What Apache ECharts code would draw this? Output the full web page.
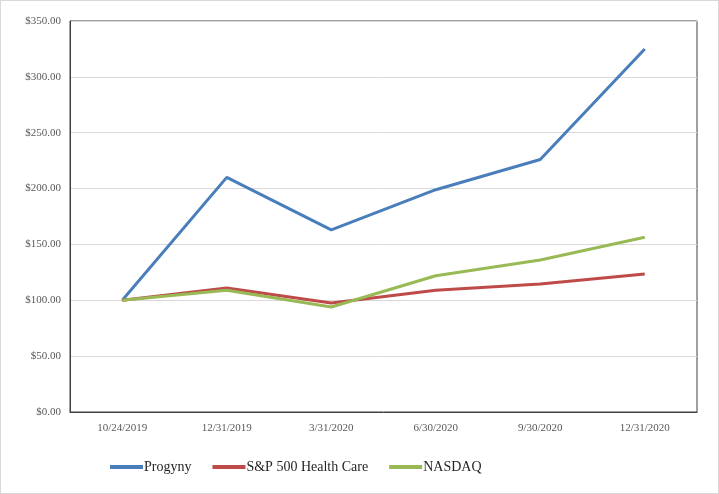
<!DOCTYPE html>
<html><head><meta charset="utf-8">
<script src="https://cdn.jsdelivr.net/npm/echarts@6/dist/echarts.min.js"></script>
<style>
html,body{margin:0;padding:0;background:#fff;}
#c{width:717px;height:492px;border:1px solid #d9d9d9;}
</style></head>
<body><div id="c"></div>
<script>
const categories = ['10/24/2019','12/31/2019','3/31/2020','6/30/2020','9/30/2020','12/31/2020'];
const progyny = [100, 210, 163, 199, 226, 325];
const spHealth = [100, 111, 97.5, 109, 114.5, 123.5];
const nasdaq = [100, 109, 94, 122, 136, 156.5];
const seriesNames = ['Progyny','S&P 500 Health Care','NASDAQ'];

const chart = echarts.init(document.getElementById('c'));
const font = 'Liberation Serif';
function mk(name, data, color){
  return {name, type:'line', data, symbol:'none', smooth:false,
    lineStyle:{width:3, color}, itemStyle:{color}};
}
chart.setOption({
  animation:false,
  textStyle:{fontFamily:font},
  grid:{left:69, right:21, top:20, bottom:81, show:true, borderColor:'#404040', borderWidth:1, containLabel:false},
  legend:{bottom:14, left:104, icon:'rect', itemWidth:33, itemHeight:4, itemGap:21,
    textStyle:{fontFamily:font, fontSize:14, color:'#262626', padding:[0,0,0,-4]},
    data:seriesNames},
  xAxis:{type:'category', data:categories, boundaryGap:true,
    axisLine:{show:true, lineStyle:{color:'#404040'}}, axisTick:{show:false},
    axisLabel:{fontFamily:font, fontSize:11, color:'#595959', margin:11}},
  yAxis:{type:'value', min:0, max:350, interval:50,
    axisLine:{show:true, lineStyle:{color:'#404040'}}, axisTick:{show:false},
    splitLine:{lineStyle:{color:'#d9d9d9', width:1}},
    axisLabel:{fontFamily:font, fontSize:11, color:'#595959', margin:9,
      formatter:v=>'$'+v.toFixed(2)}},
  series:[mk(seriesNames[0], progyny, '#4a7ebb'), mk(seriesNames[1], spHealth, '#be4b48'), mk(seriesNames[2], nasdaq, '#98b954')]
});
</script></body></html>
